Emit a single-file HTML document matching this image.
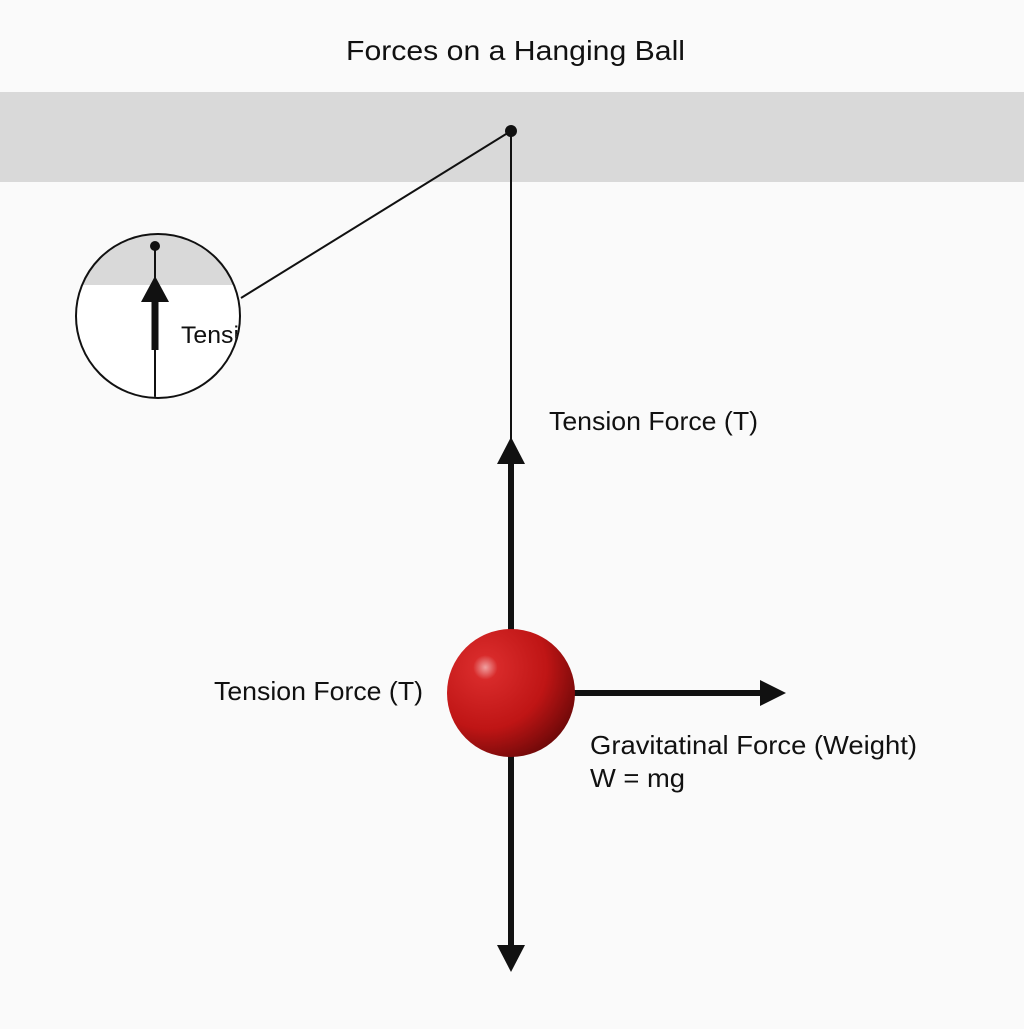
<!DOCTYPE html>
<html><head><style>html,body{margin:0;padding:0;background:#fafafa}</style></head>
<body>
<svg width="1024" height="1024" viewBox="0 0 1024 1024" xmlns="http://www.w3.org/2000/svg" font-family="Liberation Sans, DejaVu Sans, sans-serif">
<defs>
<radialGradient id="ball" cx="0.3" cy="0.3" r="0.8">
<stop offset="0" stop-color="#f0a0a0"/>
<stop offset="0.12" stop-color="#d82a2a"/>
<stop offset="0.6" stop-color="#bf1515"/>
<stop offset="1" stop-color="#6a0808"/>
</radialGradient>
<clipPath id="cc"><circle cx="158" cy="316" r="81"/></clipPath>
</defs>
<rect width="1024" height="1024" fill="#fafafa"/>
<text x="346" y="60" font-size="28" textLength="339" lengthAdjust="spacingAndGlyphs" fill="#111">Forces on a Hanging Ball</text>
<rect x="0" y="92" width="1024" height="90" fill="#d9d9d9"/>
<line x1="511" y1="131" x2="511" y2="440" stroke="#111" stroke-width="2"/>
<line x1="511" y1="131" x2="241" y2="298" stroke="#111" stroke-width="2"/>
<circle cx="511" cy="131" r="6" fill="#111"/>
<circle cx="158" cy="316" r="82" fill="#fff"/>
<g clip-path="url(#cc)">
<rect x="70" y="230" width="180" height="55" fill="#d9d9d9"/>
<line x1="155" y1="246" x2="155" y2="400" stroke="#111" stroke-width="2"/>
<rect x="151.5" y="300" width="7" height="50" fill="#111"/>
<polygon points="155,276 141,302 169,302" fill="#111"/>
<text x="181" y="343" font-size="24" textLength="58" lengthAdjust="spacingAndGlyphs" fill="#111">Tensi</text>
</g>
<circle cx="155" cy="246" r="5" fill="#111"/>
<circle cx="158" cy="316" r="82" fill="none" stroke="#111" stroke-width="2"/>
<rect x="508" y="462" width="6" height="170" fill="#111"/>
<polygon points="511,437 497,464 525,464" fill="#111"/>
<rect x="574" y="690" width="188" height="6" fill="#111"/>
<polygon points="786,693 760,680 760,706" fill="#111"/>
<rect x="508" y="755" width="6" height="192" fill="#111"/>
<polygon points="511,972 497,945 525,945" fill="#111"/>
<circle cx="511" cy="693" r="64" fill="url(#ball)"/>
<text x="549" y="430" font-size="26" textLength="209" lengthAdjust="spacingAndGlyphs" fill="#111">Tension Force (T)</text>
<text x="214" y="700" font-size="26" textLength="209" lengthAdjust="spacingAndGlyphs" fill="#111">Tension Force (T)</text>
<text x="590" y="754" font-size="26" textLength="327" lengthAdjust="spacingAndGlyphs" fill="#111">Gravitatinal Force (Weight)</text>
<text x="590" y="787" font-size="26" textLength="95" lengthAdjust="spacingAndGlyphs" fill="#111">W = mg</text>
</svg>
</body></html>
